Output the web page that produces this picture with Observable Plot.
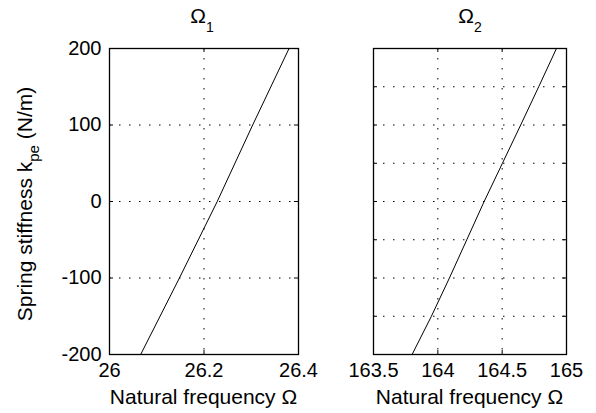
<!DOCTYPE html>
<html>
<head>
<meta charset="utf-8">
<script src="https://cdn.jsdelivr.net/npm/d3@7"></script>
<script src="https://cdn.jsdelivr.net/npm/@observablehq/plot@0.6"></script>
<style>
  html, body { margin: 0; padding: 0; background: white; }
  #chart { position: relative; width: 596px; height: 413px; background: white; }
  #chart svg { position: absolute; left: 0; top: 0; background: transparent; overflow: visible; }
</style>
</head>
<body>
<div id="chart"></div>
<script>
// ---- data ----
const k1 = [-200, -100, 0, 100, 200];
const omega1 = [26.066, 26.148, 26.228, 26.303, 26.380];
const k2 = [-200, -150, -100, -50, 0, 50, 100, 150, 200];
const omega2 = [163.80, 163.95, 164.09, 164.225, 164.36, 164.502, 164.644, 164.784, 164.922];

const xTicks1 = [26, 26.2, 26.4];
const xTickLabels1 = ["26", "26.2", "26.4"];
const yTicks1 = [-200, -100, 0, 100, 200];
const yTickLabels1 = ["-200", "-100", "0", "100", "200"];
const xTicks2 = [163.5, 164, 164.5, 165];
const xTickLabels2 = ["163.5", "164", "164.5", "165"];
const yTicks2 = [-200, -150, -100, -50, 0, 50, 100, 150, 200];

const xLabel = "Natural frequency Ω";
const yLabelMain = "Spring stiffness k";
const yLabelSub = "pe";
const yLabelUnit = " (N/m)";
const titles = [["Ω", "1"], ["Ω", "2"]];

// ---- layout ----
const W = 596, H = 413;
const mTop = 48, mBottom = 59;
const innerH = H - mTop - mBottom;
const font = "'Liberation Sans', Arial, Helvetica, sans-serif";
const dots = "1.5,8.5";
const tickLen = 4;

function panel({left, right, xDomain, xTicks, xLabels, yTicks, yLabels, gridX, gridY, data}) {
  const innerW = W - left - right;
  return Plot.plot({
    width: W, height: H,
    marginLeft: left, marginRight: right, marginTop: mTop, marginBottom: mBottom,
    style: {fontFamily: font, fontSize: "20px", color: "black", background: "transparent", overflow: "visible"},
    x: {domain: xDomain, label: null, axis: null},
    y: {domain: [-200, 200], label: null, axis: null},
    marks: [
      Plot.ruleX(gridX, {x: d => d, stroke: "black", strokeDasharray: dots, strokeWidth: 1}),
      Plot.ruleY(gridY, {y: d => d, stroke: "black", strokeDasharray: dots, strokeWidth: 1}),
      // inward ticks on all four sides
      Plot.ruleX(xTicks, {x: d => d, insetTop: innerH - tickLen, stroke: "black"}),
      Plot.ruleX(xTicks, {x: d => d, insetBottom: innerH - tickLen, stroke: "black"}),
      Plot.ruleY(yTicks, {y: d => d, insetRight: innerW - tickLen, stroke: "black"}),
      Plot.ruleY(yTicks, {y: d => d, insetLeft: innerW - tickLen, stroke: "black"}),
      Plot.axisX(xTicks, {tickSize: 0, tickPadding: 8, tickFormat: (d, i) => xLabels[i], label: null, fontSize: 20}),
      yLabels
        ? Plot.axisY(yTicks, {tickSize: 0, tickPadding: 8, tickFormat: (d, i) => yLabels[i], label: null, fontSize: 20})
        : null,
      Plot.line(data, {x: "x", y: "y", stroke: "black", strokeWidth: 1}),
      Plot.frame({stroke: "black", strokeWidth: 1.3})
    ]
  });
}

const data1 = k1.map((k, i) => ({x: omega1[i], y: k}));
const data2 = k2.map((k, i) => ({x: omega2[i], y: k}));

const p1 = panel({left: 109, right: W - 298, xDomain: [26, 26.4], xTicks: xTicks1, xLabels: xTickLabels1,
  yTicks: yTicks1, yLabels: yTickLabels1, gridX: [26.2], gridY: [-100, 0, 100], data: data1});
const p2 = panel({left: 373, right: W - 566, xDomain: [163.5, 165], xTicks: xTicks2, xLabels: xTickLabels2,
  yTicks: yTicks2, yLabels: null, gridX: [164, 164.5], gridY: [-150, -100, -50, 0, 50, 100, 150], data: data2});

const chart = document.getElementById("chart");
chart.appendChild(p1);
chart.appendChild(p2);

// ---- text labels (titles with subscripts, axis labels) ----
function addTitle(svg, cx, t) {
  const s = d3.select(svg).append("text")
    .attr("x", cx).attr("y", 23)
    .attr("text-anchor", "middle")
    .attr("font-family", font).attr("font-size", 21).attr("fill", "black");
  s.append("tspan").text(t[0]);
  s.append("tspan").attr("dy", 9).attr("font-size", 14).text(t[1]);
}
function addXLabel(svg, cx) {
  d3.select(svg).append("text")
    .attr("x", cx).attr("y", 404)
    .attr("text-anchor", "middle")
    .attr("font-family", font).attr("font-size", 21).attr("fill", "black")
    .text(xLabel);
}
addTitle(p1, 202, titles[0]);
addTitle(p2, 470, titles[1]);
addXLabel(p1, 203.5);
addXLabel(p2, 469.5);

const yl = d3.select(p1).append("text")
  .attr("transform", "translate(32,204) rotate(-90)")
  .attr("text-anchor", "middle")
  .attr("font-family", font).attr("font-size", 21).attr("fill", "black");
yl.append("tspan").text(yLabelMain);
yl.append("tspan").attr("dy", 7).attr("font-size", 15).text(yLabelSub);
yl.append("tspan").attr("dy", -7).text(yLabelUnit);
</script>
</body>
</html>
